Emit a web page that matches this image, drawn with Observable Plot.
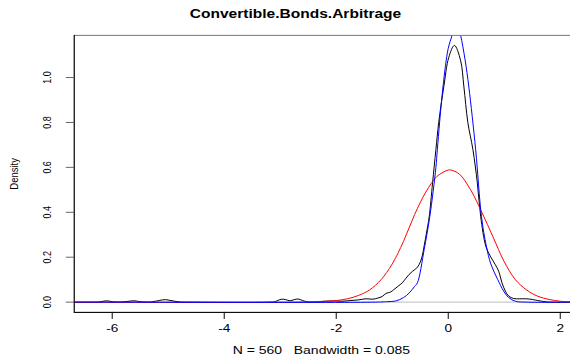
<!DOCTYPE html>
<html>
<head>
<meta charset="utf-8">
<script src="https://cdn.jsdelivr.net/npm/d3@7"></script>
<script src="https://cdn.jsdelivr.net/npm/@observablehq/plot@0.6"></script>
<style>
html, body { margin: 0; padding: 0; background: #fff; overflow: hidden; }
#chart { width: 570px; height: 356px; overflow: hidden; }
</style>
</head>
<body>
<div id="chart"></div>
<script>
const title = "Convertible.Bonds.Arbitrage";
const xLabel = "N = 560   Bandwidth = 0.085";
const yLabel = "Density";
const xTicks = [-6, -4, -2, 0, 2];
const yTicks = [0.0, 0.2, 0.4, 0.6, 0.8, 1.0];

// Kernel density estimate (black)
const kdeX = [-6.68, -6.3, -6.2, -6.1, -6.0, -5.85, -5.7, -5.6, -5.5, -5.3, -5.15, -5.05, -4.95, -4.8, -4.6, -3.2, -3.1, -2.98, -2.9, -2.83, -2.75, -2.68, -2.6, -2.5, -2.35, -2.2, -2.05, -1.9, -1.75, -1.6, -1.47, -1.35, -1.26, -1.18, -1.11, -1.03, -0.97, -0.9, -0.82, -0.76, -0.7, -0.64, -0.58, -0.52, -0.47, -0.43, -0.38, -0.34, -0.28, -0.22, -0.17, -0.08, 0.01, 0.11, 0.22, 0.28, 0.35, 0.44, 0.52, 0.58, 0.67, 0.75, 0.84, 0.9, 0.96, 1.02, 1.08, 1.17, 1.38, 1.5, 1.56, 1.73, 1.85, 2.2];
const kdeY = [0, 0, 0.002, 0.006, 0.002, 0.0005, 0.004, 0.006, 0.002, 0.001, 0.008, 0.011, 0.007, 0.001, 0, 0, 0.002, 0.013, 0.011, 0.006, 0.011, 0.014, 0.007, 0.001, 0.001, 0.004, 0.005, 0.004, 0.007, 0.01, 0.015, 0.013, 0.018, 0.025, 0.039, 0.045, 0.056, 0.07, 0.086, 0.105, 0.123, 0.137, 0.148, 0.167, 0.2, 0.25, 0.32, 0.38, 0.53, 0.68, 0.8, 0.958, 1.09, 1.143, 1.077, 0.958, 0.8, 0.68, 0.53, 0.38, 0.25, 0.205, 0.167, 0.138, 0.086, 0.049, 0.027, 0.016, 0.015, 0.012, 0.009, 0.002, 0, 0];

// Wide normal reference curve (red)
const redX = [-6.68, -3.0, -2.6, -2.3, -2.0, -1.8, -1.6, -1.4, -1.2, -1.0, -0.8, -0.6, -0.4, -0.2, 0.0, 0.05, 0.2, 0.4, 0.6, 0.8, 1.0, 1.2, 1.4, 1.6, 1.8, 2.0, 2.2];
const redY = [0, 0, 0.001, 0.003, 0.007, 0.015, 0.03, 0.055, 0.1, 0.17, 0.27, 0.39, 0.49, 0.56, 0.588, 0.588, 0.57, 0.5, 0.4, 0.29, 0.18, 0.1, 0.054, 0.026, 0.012, 0.004, 0.001];

// Narrow normal reference curve (blue)
const blueX = [-6.68, -1.3, -1.1, -0.94, -0.8, -0.7, -0.6, -0.55, -0.43, -0.33, -0.22, -0.195, -0.094, 0.0, 0.07, 0.14, 0.22, 0.3, 0.368, 0.49, 0.594, 0.68, 0.76, 0.885, 0.99, 1.08, 1.2, 1.4, 2.2];
const blueY = [0, 0, 0.002, 0.005, 0.02, 0.04, 0.07, 0.086, 0.234, 0.38, 0.6, 0.678, 0.958, 1.13, 1.19, 1.27, 1.19, 1.08, 0.958, 0.678, 0.38, 0.25, 0.17, 0.1, 0.049, 0.02, 0.004, 0, 0];

const kde = kdeX.map((x, i) => ({x, y: kdeY[i]}));
const red = redX.map((x, i) => ({x, y: redY[i]}));
const blue = blueX.map((x, i) => ({x, y: blueY[i]}));

const FONT = "Liberation Sans, Arial, Helvetica, sans-serif";

const chart = Plot.plot({
  width: 572,
  height: 356,
  marginLeft: 74,
  marginRight: 0,
  marginTop: 35,
  marginBottom: 43,
  style: {fontFamily: FONT, background: "#fff", overflow: "visible"},
  x: {domain: [-6.678, 2.183], axis: null},
  y: {domain: [-0.0457, 1.1877], axis: null},
  marks: [
    Plot.ruleY([0], {stroke: "#bebebe", strokeWidth: 1}),
    Plot.line(kde, {x: "x", y: "y", stroke: "black", strokeWidth: 1, curve: "catmull-rom", clip: true}),
    Plot.line(red, {x: "x", y: "y", stroke: "red", strokeWidth: 1, curve: "catmull-rom", clip: true}),
    Plot.line(blue, {x: "x", y: "y", stroke: "blue", strokeWidth: 1, curve: "catmull-rom", clip: true}),
    Plot.axisX({ticks: xTicks, tickSize: 7, tickFormat: () => "", label: null, stroke: "black"}),
    Plot.axisY({ticks: yTicks, tickSize: 8, tickFormat: () => "", label: null, stroke: "#666"}),
    Plot.frame({stroke: "#777"}),
    Plot.ruleY([0], {y: () => -0.0457, stroke: "black"}),
    Plot.ruleX([0], {x: () => -6.678, stroke: "black"}),
    Plot.text(xTicks, {x: d => d, frameAnchor: "bottom", dy: 20, lineAnchor: "bottom", text: d => String(d), fontSize: 10.5, fill: "black"}),
    Plot.text(yTicks, {y: d => d, frameAnchor: "left", dx: -23, rotate: -90, lineAnchor: "bottom", textAnchor: "middle", text: d => d.toFixed(1), fontSize: 9, fill: "black"}),
    Plot.text([yLabel], {frameAnchor: "left", dx: -56, rotate: -90, lineAnchor: "bottom", textAnchor: "middle", text: d => d, fontSize: 9.5, fill: "black"}),
    Plot.text([xLabel], {frameAnchor: "bottom", dx: -1, dy: 42, lineAnchor: "bottom", text: d => d, fontSize: 10.8, fill: "black"}),
    Plot.text([title], {frameAnchor: "top", dx: -27, dy: -17, lineAnchor: "bottom", text: d => d, fontSize: 12, fontWeight: "bold", fill: "black"})
  ]
});

// Stretch texts horizontally, like the reference picture
d3.select(chart).selectAll("text").each(function () {
  const t = this.getAttribute("transform") || "";
  if (/rotate\(-90\)/.test(t)) this.setAttribute("transform", t + " scale(1,1.25)");
  else if (t) this.setAttribute("transform", t + " scale(1.3,1)");
});

document.getElementById("chart").appendChild(chart);
</script>
</body>
</html>
